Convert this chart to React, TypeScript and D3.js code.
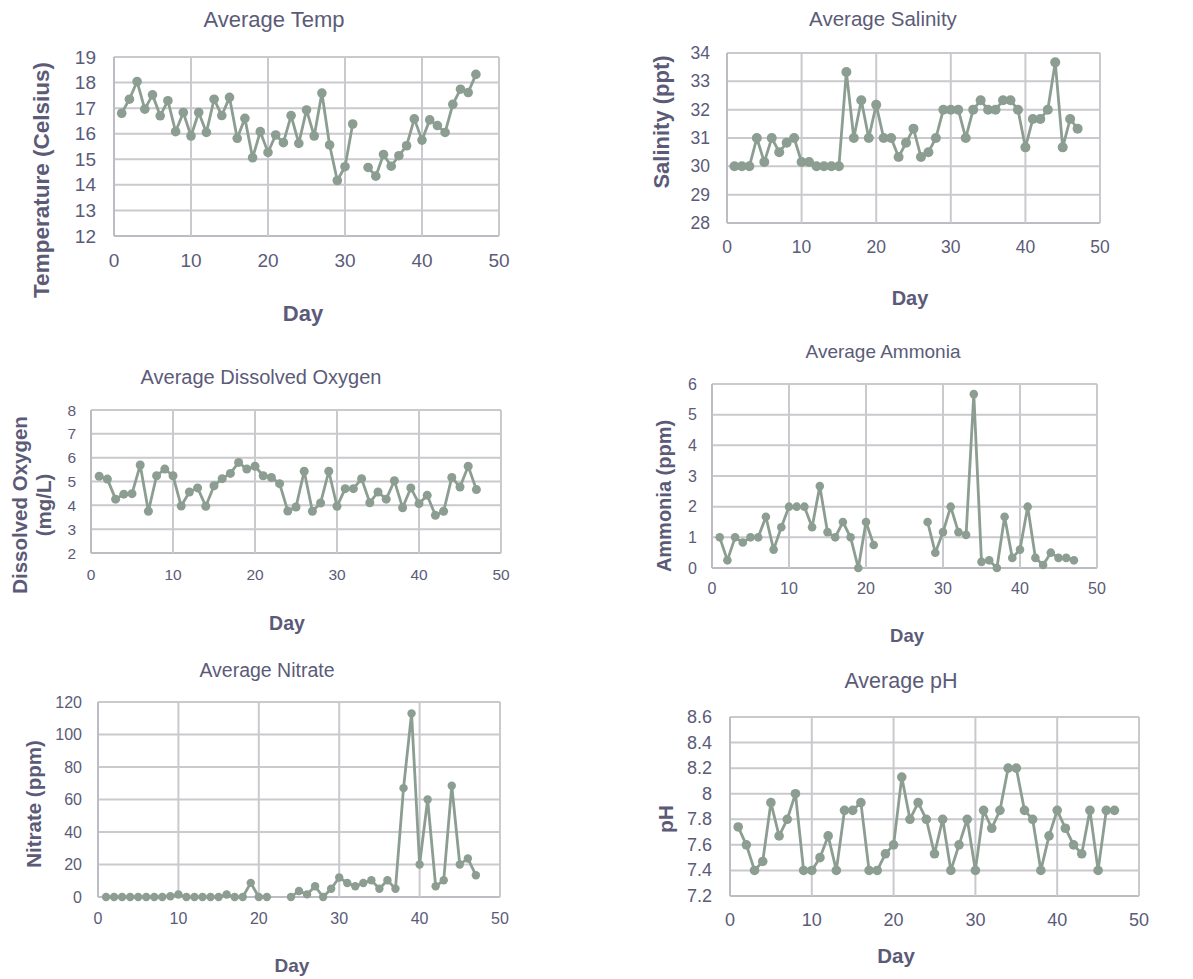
import React, { useEffect, useRef } from "react";
import * as d3 from "d3";

// --- data ---
const days = [
  1, 2, 3, 4, 5, 6, 7, 8, 9, 10, 11, 12, 13, 14, 15, 16, 17, 18, 19, 20, 21, 22, 23, 24,
  25, 26, 27, 28, 29, 30, 31, 32, 33, 34, 35, 36, 37, 38, 39, 40, 41, 42, 43, 44, 45, 46, 47,
];

const tempValues = [
  16.8, 17.35, 18.04, 16.96, 17.52, 16.7, 17.29, 16.08, 16.83, 15.91,
  16.83, 16.05, 17.35, 16.71, 17.42, 15.82, 16.6, 15.06, 16.08, 15.27,
  15.95, 15.65, 16.71, 15.62, 16.93, 15.91, 17.59, 15.56, 14.17, 14.71,
  16.38, null, 14.68, 14.34, 15.19, 14.73, 15.14, 15.53, 16.58, 15.75,
  16.54, 16.32, 16.05, 17.15, 17.74, 17.61, 18.32,
];

const salinityValues = [
  30, 30, 30, 31, 30.15, 31, 30.5, 30.83, 31, 30.15,
  30.15, 30, 30, 30, 30, 33.33, 31, 32.33, 31, 32.17,
  31, 31, 30.33, 30.83, 31.33, 30.33, 30.5, 31, 32, 32,
  32, 31, 32, 32.33, 32, 32, 32.33, 32.33, 32, 30.67,
  31.67, 31.67, 32, 33.67, 30.67, 31.67, 31.33,
];

const oxygenValues = [
  5.22, 5.1, 4.26, 4.47, 4.49, 5.69, 3.75, 5.24, 5.52, 5.24,
  3.97, 4.56, 4.73, 3.96, 4.82, 5.12, 5.34, 5.8, 5.52, 5.64,
  5.24, 5.17, 4.91, 3.76, 3.93, 5.43, 3.75, 4.1, 5.43, 3.96,
  4.7, 4.7, 5.12, 4.11, 4.56, 4.26, 5.03, 3.9, 4.73, 4.07,
  4.42, 3.58, 3.75, 5.17, 4.77, 5.64, 4.66,
];

const ammoniaValues = [
  1, 0.25, 1, 0.83, 1, 1, 1.67, 0.6, 1.33, 2,
  2, 2, 1.33, 2.67, 1.17, 1, 1.5, 1, 0, 1.5,
  0.75, null, null, null, null, null, null, 1.5, 0.5, 1.17,
  2, 1.17, 1.08, 5.67, 0.2, 0.25, 0, 1.67, 0.33, 0.6,
  2, 0.33, 0.1, 0.5, 0.33, 0.33, 0.25,
];

const nitrateValues = [
  0, 0, 0, 0, 0, 0, 0, 0, 0.5, 1.5,
  0, 0, 0, 0, 0, 1.5, 0, 0, 8.7, 0,
  0, null, null, 0, 3.7, 1.6, 6.6, 0, 5.1, 12,
  8.6, 6.6, 8.6, 10.3, 5.1, 10.3, 5.1, 67, 113, 20,
  60, 6.6, 10.3, 68.5, 20, 23.7, 13.4,
];

const phValues = [
  7.74, 7.6, 7.4, 7.47, 7.93, 7.67, 7.8, 8, 7.4, 7.4,
  7.5, 7.67, 7.4, 7.87, 7.87, 7.93, 7.4, 7.4, 7.53, 7.6,
  8.13, 7.8, 7.93, 7.8, 7.53, 7.8, 7.4, 7.6, 7.8, 7.4,
  7.87, 7.73, 7.87, 8.2, 8.2, 7.87, 7.8, 7.4, 7.67, 7.87,
  7.73, 7.6, 7.53, 7.87, 7.4, 7.87, 7.87,
];

const xTicks = ["0", "10", "20", "30", "40", "50"];
const tempTicks = ["12", "13", "14", "15", "16", "17", "18", "19"];
const salinityTicks = ["28", "29", "30", "31", "32", "33", "34"];
const oxygenTicks = ["2", "3", "4", "5", "6", "7", "8"];
const ammoniaTicks = ["0", "1", "2", "3", "4", "5", "6"];
const nitrateTicks = ["0", "20", "40", "60", "80", "100", "120"];
const phTicks = ["7.2", "7.4", "7.6", "7.8", "8", "8.2", "8.4", "8.6"];

const TEXT = "#5b5b78";
const GRID = "#c9c9ce";
const AXIS = "#bcbcc3";
const LINE = "#8c9d91";
const FONT = "'Liberation Sans', Arial, Helvetica, sans-serif";

interface PanelSpec {
  title: string;
  yLabel: string[];
  values: (number | null)[];
  yTicks: string[];
  plot: { x0: number; x1: number; y0: number; y1: number };
  titlePos: { x: number; y: number; size: number };
  yLabelPos: { x: number[]; y: number; size: number };
  dayPos: { x: number; y: number; size: number };
  tickSize: number;
  yTickGap: number;
  xTickOffset: number;
  r: number;
}

const panels: PanelSpec[] = [
  {
    title: "Average Temp",
    yLabel: ["Temperature (Celsius)"],
    values: tempValues,
    yTicks: tempTicks,
    plot: { x0: 114, x1: 499, y0: 57, y1: 236 },
    titlePos: { x: 274, y: 27, size: 22 },
    yLabelPos: { x: [41], y: 180, size: 22.5 },
    dayPos: { x: 303, y: 313, size: 22 },
    tickSize: 19,
    yTickGap: 18,
    xTickOffset: 24,
    r: 4.8,
  },
  {
    title: "Average Salinity",
    yLabel: ["Salinity (ppt)"],
    values: salinityValues,
    yTicks: salinityTicks,
    plot: { x0: 727, x1: 1100, y0: 53, y1: 223 },
    titlePos: { x: 883, y: 26, size: 20.5 },
    yLabelPos: { x: [661], y: 122, size: 22 },
    dayPos: { x: 910, y: 298, size: 20 },
    tickSize: 17.5,
    yTickGap: 17,
    xTickOffset: 24,
    r: 5,
  },
  {
    title: "Average Dissolved Oxygen",
    yLabel: ["Dissolved Oxygen", "(mg/L)"],
    values: oxygenValues,
    yTicks: oxygenTicks,
    plot: { x0: 91, x1: 501, y0: 410, y1: 553 },
    titlePos: { x: 261, y: 384, size: 20 },
    yLabelPos: { x: [19, 43], y: 505, size: 20.5 },
    dayPos: { x: 287, y: 623, size: 19.5 },
    tickSize: 15.5,
    yTickGap: 15,
    xTickOffset: 21,
    r: 4.5,
  },
  {
    title: "Average Ammonia",
    yLabel: ["Ammonia (ppm)"],
    values: ammoniaValues,
    yTicks: ammoniaTicks,
    plot: { x0: 712, x1: 1097, y0: 384, y1: 568 },
    titlePos: { x: 883, y: 358, size: 19 },
    yLabelPos: { x: [664], y: 496, size: 20 },
    dayPos: { x: 907, y: 635, size: 18.5 },
    tickSize: 16,
    yTickGap: 15,
    xTickOffset: 20,
    r: 4.3,
  },
  {
    title: "Average Nitrate",
    yLabel: ["Nitrate (ppm)"],
    values: nitrateValues,
    yTicks: nitrateTicks,
    plot: { x0: 98, x1: 500, y0: 702, y1: 897 },
    titlePos: { x: 267, y: 677, size: 19.5 },
    yLabelPos: { x: [33], y: 804, size: 20.5 },
    dayPos: { x: 292, y: 965, size: 19 },
    tickSize: 16,
    yTickGap: 16,
    xTickOffset: 21,
    r: 4.2,
  },
  {
    title: "Average pH",
    yLabel: ["pH"],
    values: phValues,
    yTicks: phTicks,
    plot: { x0: 730, x1: 1139, y0: 717, y1: 896 },
    titlePos: { x: 901, y: 688, size: 21.5 },
    yLabelPos: { x: [665], y: 819, size: 21 },
    dayPos: { x: 896, y: 955, size: 20.5 },
    tickSize: 18,
    yTickGap: 18,
    xTickOffset: 24,
    r: 4.8,
  },
];

const Panel: React.FC<{ spec: PanelSpec }> = ({ spec }) => {
  const gRef = useRef<SVGGElement | null>(null);

  useEffect(() => {
    if (!gRef.current) return;
    const g = d3.select(gRef.current);
    g.selectAll("*").remove();

    const { plot } = spec;
    const yNums = spec.yTicks.map(Number);
    const xNums = xTicks.map(Number);

    const x = d3.scaleLinear().domain([xNums[0], xNums[xNums.length - 1]]).range([plot.x0, plot.x1]);
    const y = d3.scaleLinear().domain([yNums[0], yNums[yNums.length - 1]]).range([plot.y1, plot.y0]);

    // grid
    g.append("g")
      .selectAll("line")
      .data(yNums)
      .enter()
      .append("line")
      .attr("x1", plot.x0)
      .attr("x2", plot.x1)
      .attr("y1", (d) => y(d))
      .attr("y2", (d) => y(d))
      .attr("stroke", (d, i) => (i === 0 ? AXIS : GRID))
      .attr("stroke-width", 2);

    g.append("g")
      .selectAll("line")
      .data(xNums)
      .enter()
      .append("line")
      .attr("x1", (d) => x(d))
      .attr("x2", (d) => x(d))
      .attr("y1", plot.y0)
      .attr("y2", plot.y1)
      .attr("stroke", (d, i) => (i === 0 ? AXIS : GRID))
      .attr("stroke-width", 2);

    // tick labels
    g.append("g")
      .selectAll("text")
      .data(spec.yTicks)
      .enter()
      .append("text")
      .attr("x", plot.x0 - spec.yTickGap)
      .attr("y", (d) => y(Number(d)))
      .attr("text-anchor", "end")
      .attr("dominant-baseline", "central")
      .attr("font-size", spec.tickSize)
      .attr("fill", TEXT)
      .text((d) => d);

    g.append("g")
      .selectAll("text")
      .data(xTicks)
      .enter()
      .append("text")
      .attr("x", (d) => x(Number(d)))
      .attr("y", plot.y1 + spec.xTickOffset)
      .attr("text-anchor", "middle")
      .attr("dominant-baseline", "central")
      .attr("font-size", spec.tickSize)
      .attr("fill", TEXT)
      .text((d) => d);

    // series
    const pts = days.map((d, i) => ({ day: d, v: spec.values[i] }));
    const line = d3
      .line<{ day: number; v: number | null }>()
      .defined((d) => d.v !== null)
      .x((d) => x(d.day))
      .y((d) => y(d.v as number));

    g.append("path")
      .datum(pts)
      .attr("d", line)
      .attr("fill", "none")
      .attr("stroke", LINE)
      .attr("stroke-width", 2.8)
      .attr("stroke-linejoin", "round");

    g.append("g")
      .selectAll("circle")
      .data(pts.filter((d) => d.v !== null))
      .enter()
      .append("circle")
      .attr("cx", (d) => x(d.day))
      .attr("cy", (d) => y(d.v as number))
      .attr("r", spec.r)
      .attr("fill", LINE);

    // titles
    g.append("text")
      .attr("x", spec.titlePos.x)
      .attr("y", spec.titlePos.y)
      .attr("text-anchor", "middle")
      .attr("font-size", spec.titlePos.size)
      .attr("fill", TEXT)
      .text(spec.title);

    spec.yLabel.forEach((lbl, i) => {
      g.append("text")
        .attr("transform", `translate(${spec.yLabelPos.x[i]},${spec.yLabelPos.y}) rotate(-90)`)
        .attr("text-anchor", "middle")
        .attr("dominant-baseline", "central")
        .attr("font-size", spec.yLabelPos.size)
        .attr("font-weight", "bold")
        .attr("fill", TEXT)
        .text(lbl);
    });

    g.append("text")
      .attr("x", spec.dayPos.x)
      .attr("y", spec.dayPos.y)
      .attr("text-anchor", "middle")
      .attr("dominant-baseline", "central")
      .attr("font-size", spec.dayPos.size)
      .attr("font-weight", "bold")
      .attr("fill", TEXT)
      .text("Day");
  }, [spec]);

  return <g ref={gRef} />;
};

const App: React.FC = () => {
  return (
    <div style={{ position: "absolute", left: 0, top: 0, background: "#fff" }}>
      <svg width={1193} height={979} style={{ display: "block", fontFamily: FONT }}>
        <rect width={1193} height={979} fill="#fff" />
        {panels.map((p) => (
          <Panel key={p.title} spec={p} />
        ))}
      </svg>
    </div>
  );
};

export default App;
